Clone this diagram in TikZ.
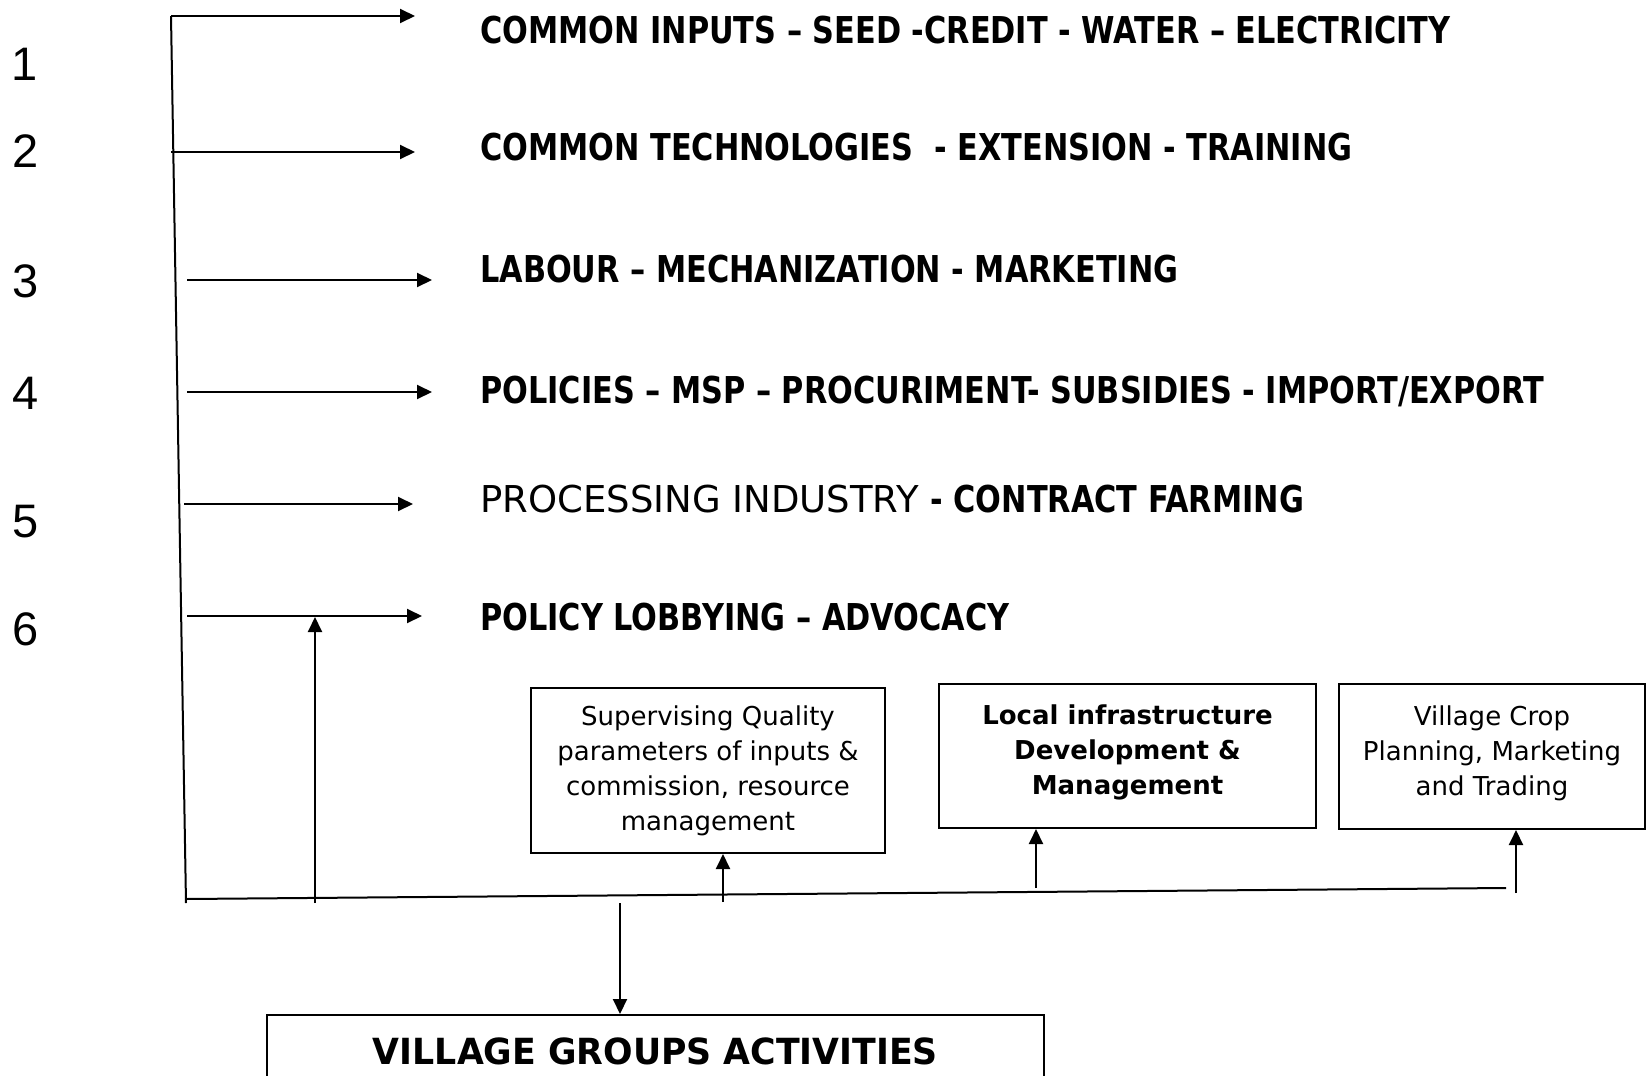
\documentclass[tikz,border=0pt]{standalone}
\usepackage{fontspec}
\usetikzlibrary{arrows.meta}
\newfontfamily\tah{DejaVu Sans}[FakeStretch=0.82]
\newfontfamily\tahr{DejaVu Sans}
\newfontfamily\tahv{DejaVu Sans}[FakeStretch=0.965]
\newfontfamily\arl{Liberation Sans}
\begin{document}
\begin{tikzpicture}[x=1pt,y=-1pt,
  ln/.style={line width=2pt},
  arr/.style={line width=2pt,-{Triangle[length=15pt,width=14pt]}},
  row/.style={anchor=base west,inner sep=0pt,font=\tah\bfseries\fontsize{37}{44}\selectfont},
  rowr/.style={anchor=base west,inner sep=0pt,font=\tahr\fontsize{37}{44}\selectfont},
  num/.style={anchor=base,inner sep=0pt,font=\arl\fontsize{47}{54}\selectfont},
  box/.style={draw,line width=2pt,inner sep=0pt,align=center,font=\tahr\fontsize{26}{35}\selectfont}]
\clip (0,0) rectangle (1649,1076);
\fill[white] (0,0) rectangle (1649,1076);
% numbers
\node[num] (n1) at (25,80) {1};
\node[num] (n2) at (26,167) {2};
\node[num] (n3) at (26,297) {3};
\node[num] (n4) at (26,409) {4};
\node[num] (n5) at (26,537) {5};
\node[num] (n6) at (26,645) {6};
% rows
\node[row] (r1) at (480,43) {COMMON INPUTS – SEED -CREDIT - WATER – ELECTRICITY};
\node[row] (r2) at (480,160) {COMMON TECHNOLOGIES\ \ - EXTENSION - TRAINING};
\node[row] (r3) at (480,282) {LABOUR – MECHANIZATION - MARKETING};
\node[row] (r4) at (480,403) {POLICIES – MSP – PROCURIMENT- SUBSIDIES - IMPORT/EXPORT};
\node[rowr] (r5) at (480,512) {PROCESSING INDUSTRY {\tah\bfseries - CONTRACT FARMING}};
\node[row] (r6) at (480,630) {POLICY LOBBYING – ADVOCACY};
% boxes
\node[box,minimum width=354pt,minimum height=165pt] (sup) at (708,770.5)
  {Supervising Quality\\parameters of inputs \&\\commission, resource\\management};
\node[box,minimum width=377pt,minimum height=144pt,font=\tahr\bfseries\fontsize{26}{35}\selectfont] (loc) at (1127.5,756)
  {Local infrastructure\\Development \&\\Management\\[-23pt]};
\node[box,minimum width=306pt,minimum height=145pt] (crop) at (1492,756.5)
  {Village Crop\\Planning, Marketing\\and Trading\\[-23pt]};
\node[draw,line width=2pt,inner sep=0pt,minimum width=777pt,minimum height=72pt,
  font=\tahv\bfseries\fontsize{36}{42}\selectfont] (vg) at (655.5,1051) {VILLAGE GROUPS ACTIVITIES};
% main lines
\coordinate (vt) at (171,16);
\coordinate (vb) at (186,903);
\draw[ln] (vt) -- (vb);
\coordinate (e1) at (415,16);
\draw[arr] (vt) -- (e1);
\coordinate (s2) at (171,152); \coordinate (e2) at (415,152);
\draw[arr] (s2) -- (e2);
\coordinate (s3) at (187,280); \coordinate (e3) at (432,280);
\draw[arr] (s3) -- (e3);
\coordinate (s4) at (187,392); \coordinate (e4) at (432,392);
\draw[arr] (s4) -- (e4);
\coordinate (s5) at (184,504); \coordinate (e5) at (413,504);
\draw[arr] (s5) -- (e5);
\coordinate (s6) at (187,616); \coordinate (e6) at (422,616);
\draw[arr] (s6) -- (e6);
\coordinate (u0) at (315,903); \coordinate (u1) at (315,617);
\draw[arr] (u0) -- (u1);
% bottom bus
\coordinate (hl) at (186,899);
\coordinate (hr) at (1506,888);
\draw[ln] (hl) -- (hr);
\coordinate (d0) at (620,903);
\draw[arr] (d0) -- (d0 |- vg.north);
\coordinate (su0) at (723,902);
\draw[arr] (su0) -- (su0 |- sup.south);
\coordinate (lo0) at (1036,888);
\draw[arr] (lo0) -- (lo0 |- loc.south);
\coordinate (cr0) at (1516,893);
\draw[arr] (cr0) -- (cr0 |- crop.south);
\end{tikzpicture}
\end{document}
